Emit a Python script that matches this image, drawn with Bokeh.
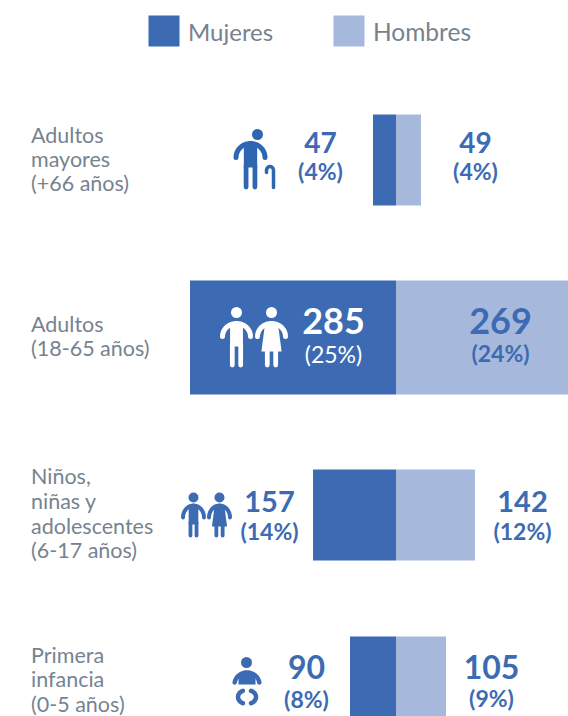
import math
from bokeh.plotting import figure
from bokeh.models import Range1d, ColumnDataSource
from bokeh.core.properties import value
from bokeh.embed import file_html
from bokeh.resources import INLINE

categorias = [["Adultos", "mayores", "(+66 años)"],
              ["Adultos", "(18-65 años)"],
              ["Niños,", "niñas y", "adolescentes", "(6-17 años)"],
              ["Primera", "infancia", "(0-5 años)"]]
mujeres = [47, 285, 157, 90]
hombres = [49, 269, 142, 105]
pct_mujeres = ["(4%)", "(25%)", "(14%)", "(8%)"]
pct_hombres = ["(4%)", "(24%)", "(12%)", "(9%)"]
# bar lengths (the drawn bars are not proportional to their labels)
largo_mujeres = [46, 412, 166, 92]
largo_hombres = [50, 344, 158, 100]

AZUL, CLARO, GRIS = "#3d6bb3", "#a6b9dc", "#76838f"
ICONO = "#2f66b2"
W, H = 568, 716
PX_PER_UNIT = 0.5
CENTER = 395.5
FONT = value("Lato")

p = figure(width=W, height=H, output_backend="svg", toolbar_location=None,
           x_range=Range1d(-CENTER / PX_PER_UNIT, (W - CENTER) / PX_PER_UNIT),
           y_range=Range1d(H, 0), min_border=0, outline_line_color=None)
p.extra_x_ranges = {"px": Range1d(0, W)}
p.xaxis.visible = False
p.yaxis.visible = False
p.grid.visible = False

# layout (page pixels)
fila_top = [114, 280, 469, 636]
fila_bot = [205, 394, 560, 716]

src = ColumnDataSource(dict(
    left=[-v for v in largo_mujeres], zero=[0] * 4, right=largo_hombres,
    top=fila_top, bottom=fila_bot))
p.quad(left="left", right="zero", top="top", bottom="bottom", source=src,
       fill_color=AZUL, line_color=None)
p.quad(left="zero", right="right", top="top", bottom="bottom", source=src,
       fill_color=CLARO, line_color=None)


def txt(x, y, s, size, color, style="normal", align="center"):
    p.text(x=[x], y=[y - 1.5], text=[s], x_range_name="px", text_font=FONT,
           text_font_size=f"{size}px", text_color=color, text_font_style=style,
           text_align=align, text_baseline="middle")


def rect(x0, x1, y0, y1, color):
    p.quad(left=[x0], right=[x1], top=[y0], bottom=[y1],
           x_range_name="px", fill_color=color, line_color=None)


def stroke(xs, ys, w, color):
    p.line(list(xs), list(ys), x_range_name="px",
           line_width=w, line_color=color, line_cap="round", line_join="round")


def head(cx, cy, r, color):
    p.circle(x=[cx], y=[cy], radius=r, x_range_name="px",
             fill_color=color, line_color=None)


def arc(cx, cy, rx, ry, a0, a1):
    pts = [a0 + (a1 - a0) * i / 24 for i in range(25)]
    return ([cx + rx * math.cos(math.radians(a)) for a in pts],
            [cy + ry * math.sin(math.radians(a)) for a in pts])


def person(cx, head_x, head_y, r, half, top, hand, hip, feet, w, color, skirt=False):
    head(head_x, head_y, r, color)
    xs, ys = arc(cx, hand, half, hand - top, 180, 360)
    stroke(xs, ys, w, color)
    tw = half * 0.46
    if skirt:
        p.patch([cx - tw, cx + tw, cx + half * 0.72, cx - half * 0.72],
                [top, top, hip + 1, hip + 1],
                x_range_name="px", fill_color=color, line_color=None)
        leg = half * 0.3
    else:
        rect(cx - tw, cx + tw, top, hip + 2, color)
        leg = tw - w * 0.45
    stroke([cx - leg, cx - leg], [hip, feet - w / 2], w * 0.95, color)
    stroke([cx + leg, cx + leg], [hip, feet - w / 2], w * 0.95, color)


# legend
rect(148, 179, 15, 46, AZUL)
rect(333, 364, 15, 46, CLARO)
txt(187.5, 32, "Mujeres", 24, GRIS, align="left")
txt(372.5, 32, "Hombres", 24.5, GRIS, align="left")

# category labels
lineas_y = [[136, 160, 184], [325, 349], [477, 502, 527, 551], [656, 680, 705]]
for lineas, ys in zip(categorias, lineas_y):
    for s, y in zip(lineas, ys):
        txt(30.5, y, s, 21.5, GRIS, align="left")

# numbers
num_m = [(320, 143, 28, 172, AZUL), (333, 322, 36, 355, "white"),
         (269, 502, 29, 532, AZUL), (306, 668, 32, 700, AZUL)]
num_h = [(475, 143, 28, 172), (500, 322, 36, 354), (522, 502, 29, 532), (491, 668, 32, 699)]
for v, pc, (x, y, s, y2, c) in zip(mujeres, pct_mujeres, num_m):
    txt(x, y, str(v), s, c, "bold")
    txt(x, y2, pc, 23, c, "bold" if c != "white" else "normal")
for v, pc, (x, y, s, y2) in zip(hombres, pct_hombres, num_h):
    txt(x, y, str(v), s, AZUL, "bold")
    txt(x, y2, pc, 23, AZUL, "bold")

# icons
person(250, 257, 134, 5.5, 14.5, 143, 157, 165, 189, 5, ICONO)
xs, ys = arc(269.5, 170, 3.5, 4, 180, 360)
stroke([266] + xs + [273], [172] + ys + [187], 3.5, ICONO)
person(236, 236, 312, 5.5, 14, 323, 336, 344, 367, 5, "white")
person(271, 271, 312, 5.5, 14, 323, 336, 350, 367, 5, "white", skirt=True)
person(193, 193, 497, 5, 10.5, 505, 517, 522, 537, 4, AZUL)
person(219, 219, 497, 5, 10.5, 505, 517, 525, 537, 4, AZUL, skirt=True)
# baby
head(246, 662, 5.5, AZUL)
xs, ys = arc(246.5, 684, 12.5, 12, 190, 350)
stroke(xs, ys, 4.5, AZUL)
rect(238, 255, 673, 684, AZUL)
xs, ys = arc(245, 696.5, 7.5, 6.5, 110, 250)
stroke(xs, ys, 4.5, AZUL)
xs, ys = arc(248, 696.5, 7.5, 6.5, -70, 70)
stroke(xs, ys, 4.5, AZUL)

open("out.html", "w").write(file_html(p, INLINE))
